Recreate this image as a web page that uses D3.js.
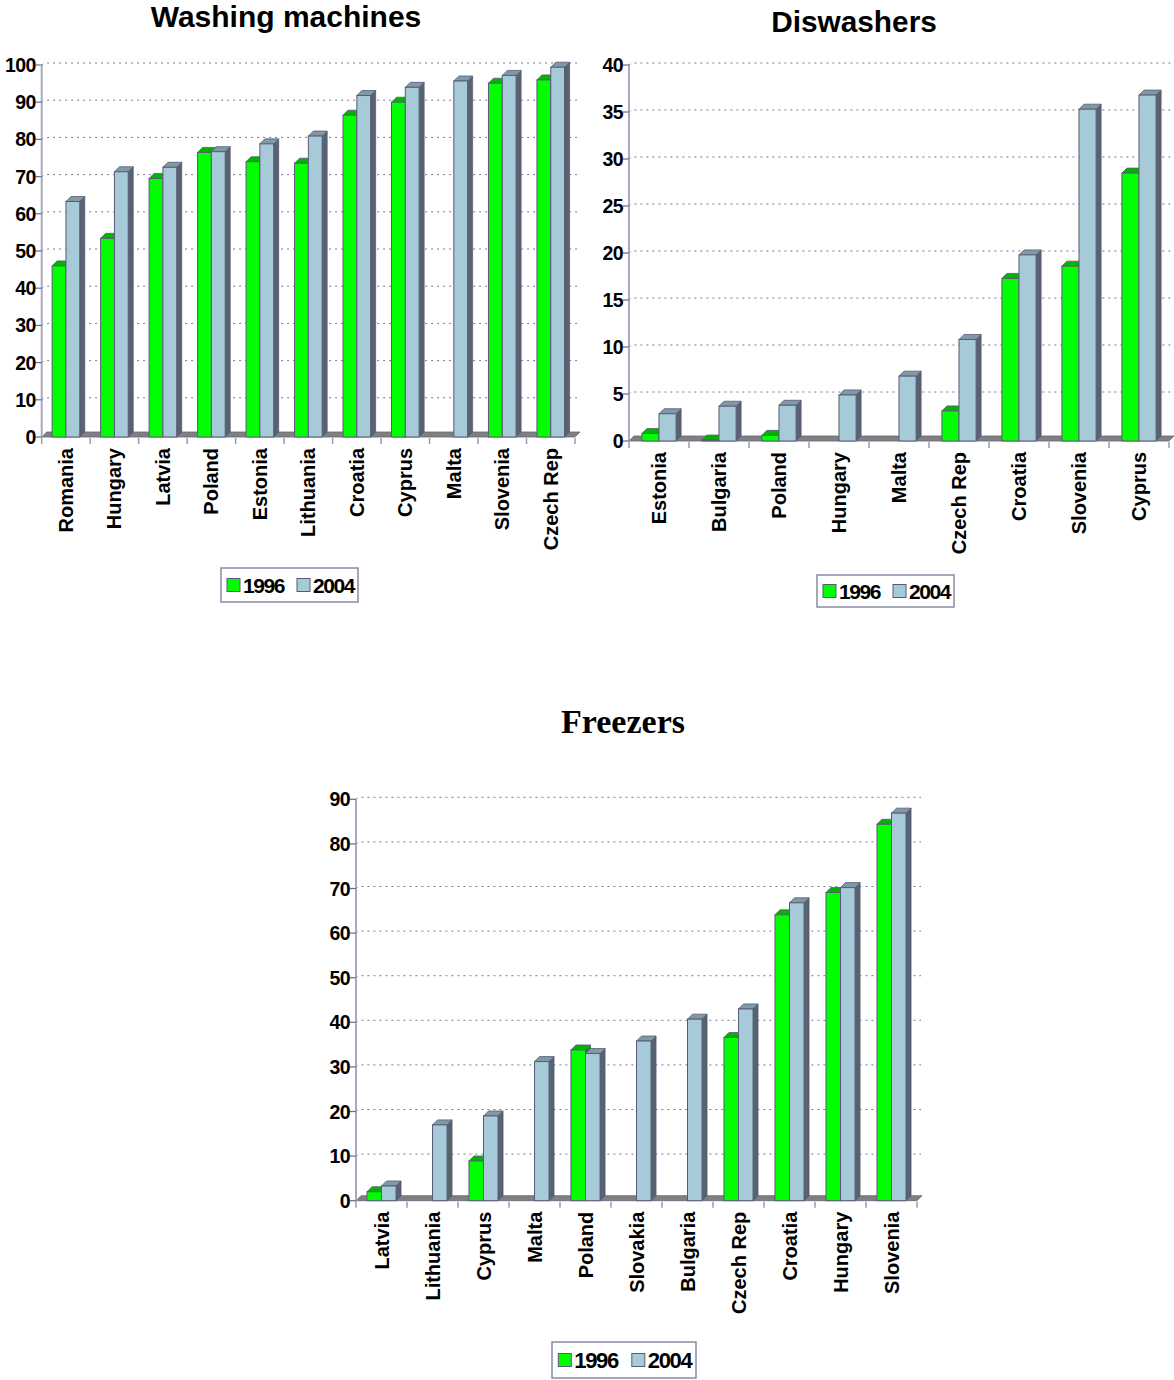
<!DOCTYPE html>
<html>
<head>
<meta charset="utf-8">
<script src="https://cdn.jsdelivr.net/npm/d3@7"></script>
<style>
  body { margin: 0; background: #ffffff; }
  svg { display: block; }
  text { font-family: Arial, "Liberation Sans", sans-serif; font-weight: bold; fill: #000; }
</style>
</head>
<body>
<svg id="chart" width="1174" height="1380"></svg>
<script>
// series labels
var seriesNames = ["1996", "2004"];

// Washing machines
var washCategories = ["Romania", "Hungary", "Latvia", "Poland", "Estonia", "Lithuania", "Croatia", "Cyprus", "Malta", "Slovenia", "Czech Rep"];
var wash1996 = [46, 53.4, 69.5, 76.5, 74, 73.6, 86.5, 90, 0, 95.1, 96];
var wash2004 = [63.3, 71.3, 72.5, 76.7, 78.8, 80.9, 91.8, 94, 95.7, 97.2, 99.4];
var washTicks = [0, 10, 20, 30, 40, 50, 60, 70, 80, 90, 100];

// Diswashers
var dishCategories = ["Estonia", "Bulgaria", "Poland", "Hungary", "Malta", "Czech Rep", "Croatia", "Slovenia", "Cyprus"];
var dish1996 = [0.8, 0.1, 0.6, 0, 0, 3.2, 17.3, 18.6, 28.5];
var dish2004 = [2.9, 3.7, 3.8, 4.9, 6.9, 10.8, 19.8, 35.3, 36.8];
var dishTicks = [0, 5, 10, 15, 20, 25, 30, 35, 40];

// Freezers
var freezCategories = ["Latvia", "Lithuania", "Cyprus", "Malta", "Poland", "Slovakia", "Bulgaria", "Czech Rep", "Croatia", "Hungary", "Slovenia"];
var freez1996 = [2.0, 0, 8.9, 0, 33.8, 0, 0, 36.6, 64.1, 69.1, 84.4];
var freez2004 = [3.3, 17.0, 19.0, 31.2, 33.0, 35.8, 40.7, 43.0, 66.8, 70.2, 86.9];
var freezTicks = [0, 10, 20, 30, 40, 50, 60, 70, 80, 90];

var svg = d3.select("#chart");

var colors = [
    {front: "#00ff00", top: "#00b400", side: "#009a00"},
    {front: "#a6cad8", top: "#7f9aa5", side: "#55646f"}
];
var D = 5; // 3d depth in px

function drawChart(cfg) {
    var g = svg.append("g");

    var x = d3.scaleBand().domain(cfg.categories).range([cfg.x0, cfg.x1]);
    var y = d3.scaleLinear().domain([0, d3.max(cfg.ticks)]).range([cfg.y0, cfg.yTop]);
    var bw = x.bandwidth();

    // title
    g.append("text")
        .attr("x", cfg.titleX).attr("y", cfg.titleY)
        .attr("text-anchor", "middle")
        .style("font-size", cfg.titleSize + "px")
        .style("font-family", cfg.titleFont || null)
        .text(cfg.title);

    // gridlines on back wall
    g.selectAll("line.grid")
        .data(cfg.ticks.filter(function(t){ return t > 0; }))
        .enter().append("path")
        .attr("d", function(t){
            var yy = y(t);
            return "M" + cfg.x0 + "," + yy + "L" + (cfg.x0 + 3) + "," + (yy - 2) + "L" + (cfg.x1 + 4) + "," + (yy - 2);
        })
        .attr("fill", "none")
        .attr("stroke", "#77779a")
        .attr("stroke-width", 1)
        .attr("stroke-dasharray", "2,4");

    // floor
    g.append("path")
        .attr("d", "M" + cfg.x0 + "," + cfg.y0 + "L" + (cfg.x0 + D) + "," + (cfg.y0 - D) +
                   "L" + (cfg.x1 + D) + "," + (cfg.y0 - D) + "L" + cfg.x1 + "," + cfg.y0 + "Z")
        .attr("fill", "#808080")
        .attr("stroke", "#66667a")
        .attr("stroke-width", 0.8);

    // y axis
    g.append("line")
        .attr("x1", cfg.x0).attr("x2", cfg.x0)
        .attr("y1", cfg.y0 + 1).attr("y2", y(d3.max(cfg.ticks)))
        .attr("stroke", "#a8a8c0").attr("stroke-width", 2);

    g.selectAll("line.ytick")
        .data(cfg.ticks)
        .enter().append("line")
        .attr("x1", cfg.x0 - 6).attr("x2", cfg.x0)
        .attr("y1", function(t){ return y(t); })
        .attr("y2", function(t){ return y(t); })
        .attr("stroke", "#6a6a8a").attr("stroke-width", 1.2);

    g.selectAll("text.ylab")
        .data(cfg.ticks)
        .enter().append("text")
        .attr("x", cfg.x0 - 6)
        .attr("y", function(t){ return y(t) + 7; })
        .attr("text-anchor", "end")
        .style("font-size", "19.5px")
        .style("letter-spacing", "-0.6px")
        .text(function(t){ return t; });

    // x ticks at band boundaries
    var bounds = cfg.categories.map(function(c){ return x(c); }).concat([cfg.x1]);
    g.selectAll("line.xtick")
        .data(bounds)
        .enter().append("line")
        .attr("x1", function(b){ return b; }).attr("x2", function(b){ return b; })
        .attr("y1", cfg.y0 + 1).attr("y2", cfg.y0 + 7)
        .attr("stroke", "#9a9ab4").attr("stroke-width", 1.5);

    // bars
    cfg.categories.forEach(function(c, i) {
        [cfg.s1, cfg.s2].forEach(function(series, k) {
            var v = series[i];
            if (!(v > 0)) return;
            var col = colors[k];
            var bx = x(c) + bw * 0.215 + k * bw * 0.285;
            var w = bw * 0.285;
            var top = y(v);
            var bot = cfg.y0;
            // side face
            g.append("path")
                .attr("d", "M" + (bx + w) + "," + bot + "L" + (bx + w) + "," + top +
                           "L" + (bx + w + D) + "," + (top - D) + "L" + (bx + w + D) + "," + (bot - D) + "Z")
                .attr("fill", col.side).attr("stroke", "#5a5a78").attr("stroke-width", 0.8);
            // top face
            g.append("path")
                .attr("d", "M" + bx + "," + top + "L" + (bx + D) + "," + (top - D) +
                           "L" + (bx + w + D) + "," + (top - D) + "L" + (bx + w) + "," + top + "Z")
                .attr("fill", col.top).attr("stroke", "#5a5a78").attr("stroke-width", 0.8);
            // front face
            if (bot - top > 0.5) {
                g.append("rect")
                    .attr("x", bx).attr("y", top)
                    .attr("width", w).attr("height", bot - top)
                    .attr("fill", col.front).attr("stroke", "#5a5a78").attr("stroke-width", 1);
            }
        });
    });

    // category labels
    g.selectAll("text.xlab")
        .data(cfg.categories)
        .enter().append("text")
        .attr("transform", function(c){
            return "translate(" + (x(c) + bw / 2 + 7) + "," + (cfg.y0 + 11) + ") rotate(-90)";
        })
        .attr("text-anchor", "end")
        .style("font-size", "20px")
        .text(function(c){ return c; });

    // legend
    var L = cfg.legend;
    var lg = g.append("g").attr("transform", "translate(" + L.x + "," + L.y + ")");
    lg.append("rect")
        .attr("width", L.w).attr("height", L.h)
        .attr("fill", "#fff").attr("stroke", "#8a8aa6").attr("stroke-width", 1.5);
    var sq = 13;
    var offs = [6, 76];
    seriesNames.forEach(function(name, k) {
        lg.append("rect")
            .attr("x", offs[k] * L.s).attr("y", L.h / 2 - sq / 2)
            .attr("width", sq).attr("height", sq)
            .attr("fill", colors[k].front).attr("stroke", "#5a5a78").attr("stroke-width", 1);
        lg.append("text")
            .attr("x", offs[k] * L.s + sq + 3).attr("y", L.h / 2 + 7.5)
            .style("font-size", (21 * L.s) + "px")
            .style("letter-spacing", "-1.4px")
            .text(name);
    });
}

drawChart({
    title: "Washing machines", titleX: 286, titleY: 27, titleSize: 30,
    categories: washCategories, s1: wash1996, s2: wash2004, ticks: washTicks,
    x0: 41.7, x1: 575, y0: 437, yTop: 65,
    legend: {x: 221, y: 568, w: 137, h: 34, s: 1}
});

drawChart({
    title: "Diswashers", titleX: 854, titleY: 32, titleSize: 29.8,
    categories: dishCategories, s1: dish1996, s2: dish2004, ticks: dishTicks,
    x0: 629, x1: 1169, y0: 441, yTop: 65,
    legend: {x: 817, y: 575, w: 137, h: 32, s: 1}
});

drawChart({
    title: "Freezers", titleX: 623, titleY: 733, titleSize: 34,
    titleFont: "'Times New Roman', 'Liberation Serif', serif",
    categories: freezCategories, s1: freez1996, s2: freez2004, ticks: freezTicks,
    x0: 356, x1: 917, y0: 1200.7, yTop: 799.3,
    legend: {x: 552, y: 1342, w: 144, h: 36, s: 1.05}
});
</script>
</body>
</html>
